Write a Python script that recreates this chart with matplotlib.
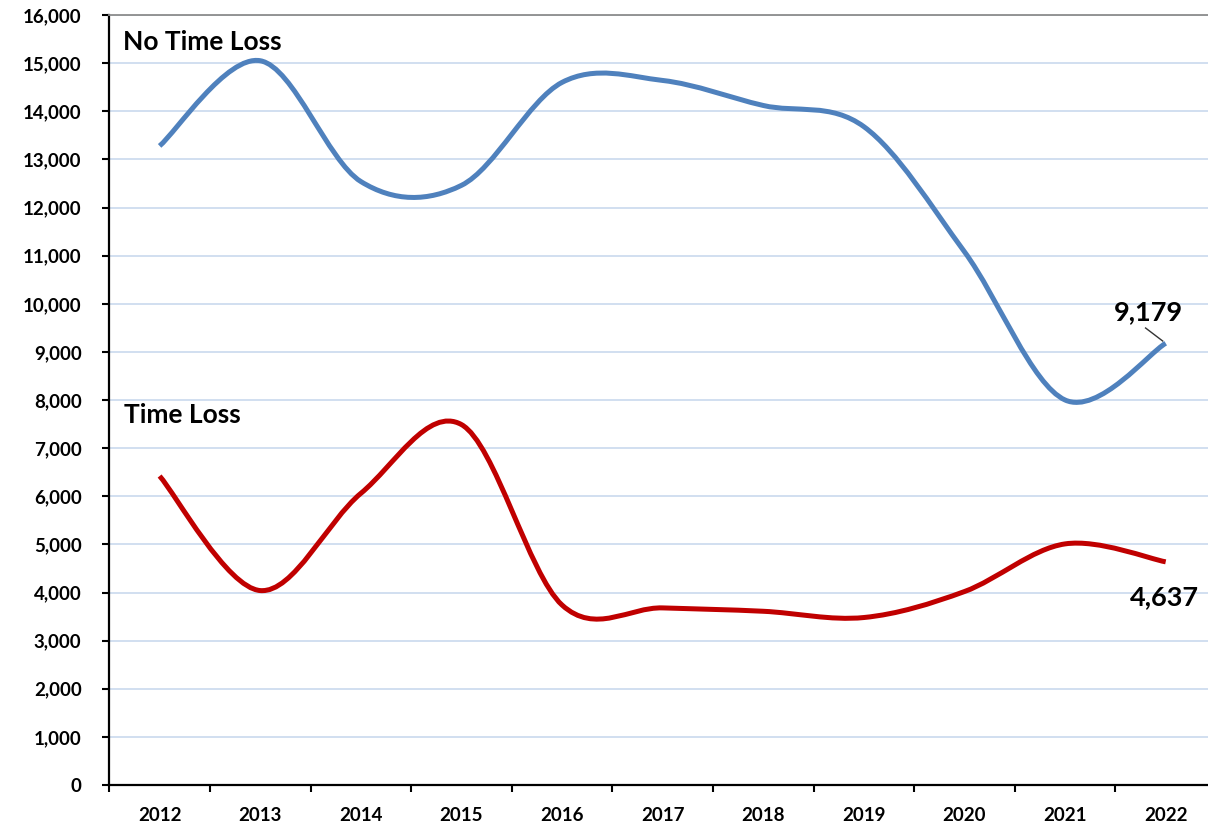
import matplotlib
matplotlib.use("Agg")
import matplotlib.pyplot as plt
from matplotlib.path import Path
from matplotlib.patches import PathPatch
from matplotlib.ticker import FuncFormatter, FixedLocator

years = ["2012", "2013", "2014", "2015", "2016", "2017", "2018", "2019", "2020", "2021", "2022"]
no_time_loss = [13280, 15050, 12540, 12460, 14600, 14640, 14120, 13680, 11080, 8000, 9179]
time_loss = [6420, 4040, 6060, 7490, 3740, 3680, 3610, 3480, 4020, 5010, 4637]
y_ticks = list(range(0, 16001, 1000))

plt.rcParams['font.family'] = ['Lato', 'DejaVu Sans']
plt.rcParams['font.weight'] = 'bold'

W, H, DPI = 1208, 825, 100
fig = plt.figure(figsize=(W / DPI, H / DPI), dpi=DPI)
left_px, right_px, top_px, bottom_px = 109.3, 1216.0, 15.0, 785.0
ax = fig.add_axes([left_px / W, (H - bottom_px) / H, (right_px - left_px) / W, (bottom_px - top_px) / H])

n = len(years)
xs = list(range(n))


def smooth_path(x, y):
    pts = list(zip(x, y))
    verts = [pts[0]]
    codes = [Path.MOVETO]
    for i in range(len(pts) - 1):
        p0 = pts[i - 1] if i > 0 else pts[i]
        p1 = pts[i]
        p2 = pts[i + 1]
        p3 = pts[i + 2] if i + 2 < len(pts) else pts[i + 1]
        c1 = (p1[0] + (p2[0] - p0[0]) / 6.0, p1[1] + (p2[1] - p0[1]) / 6.0)
        c2 = (p2[0] - (p3[0] - p1[0]) / 6.0, p2[1] - (p3[1] - p1[1]) / 6.0)
        verts += [c1, c2, p2]
        codes += [Path.CURVE4] * 3
    return Path(verts, codes)


for vals, col in [(no_time_loss, '#4F81BD'), (time_loss, '#C00000')]:
    patch = PathPatch(smooth_path(xs, vals), facecolor='none', edgecolor=col,
                      lw=3.6, capstyle='butt', joinstyle='round', zorder=3)
    ax.add_patch(patch)

ax.set_xlim(-0.5, n - 0.5)
ax.set_ylim(0, 16000)

# gridlines
ax.yaxis.set_major_locator(FixedLocator(y_ticks))
ax.yaxis.set_major_formatter(FuncFormatter(lambda v, p: f"{int(v):,}"))
ax.grid(axis='y', color='#C5D6EC', lw=1.1, zorder=0)
ax.set_axisbelow(True)

# x ticks at boundaries, labels at centers
ax.xaxis.set_major_locator(FixedLocator([i - 0.5 for i in range(n + 1)]))
ax.xaxis.set_major_formatter(FuncFormatter(lambda v, p: ""))
ax.xaxis.set_minor_locator(FixedLocator(xs))
ax.set_xticklabels(years, minor=True)
ax.tick_params(axis='x', which='major', direction='out', length=5, width=1.5, color='black')
ax.tick_params(axis='x', which='minor', length=0, pad=16, labelsize=13.5, labelcolor='black')
ax.tick_params(axis='y', which='major', direction='out', length=5, width=1.5, color='black',
               pad=15, labelsize=13.5, labelcolor='black')

for s in ['left', 'bottom']:
    ax.spines[s].set_color('black')
    ax.spines[s].set_linewidth(1.6)
ax.spines['top'].set_color('#8C8C8C')
ax.spines['top'].set_linewidth(1.3)
ax.spines['right'].set_visible(False)

# series names
ax.text(-0.364, 15270, "No Time Loss", ha='left', va='baseline', fontsize=19, fontweight='bold')
ax.text(-0.353, 7520, "Time Loss", ha='left', va='baseline', fontsize=19, fontweight='bold')

# end labels
ax.text(9.825, 9662, f"{no_time_loss[-1]:,}", ha='center', va='baseline', fontsize=19.5, fontweight='bold')
ax.plot([9.80, 9.97], [9496, 9226], color='#333333', lw=1.0, zorder=4)
ax.text(9.985, 3740, f"{time_loss[-1]:,}", ha='center', va='baseline', fontsize=19.5, fontweight='bold')

fig.savefig("out.png", dpi=DPI)
